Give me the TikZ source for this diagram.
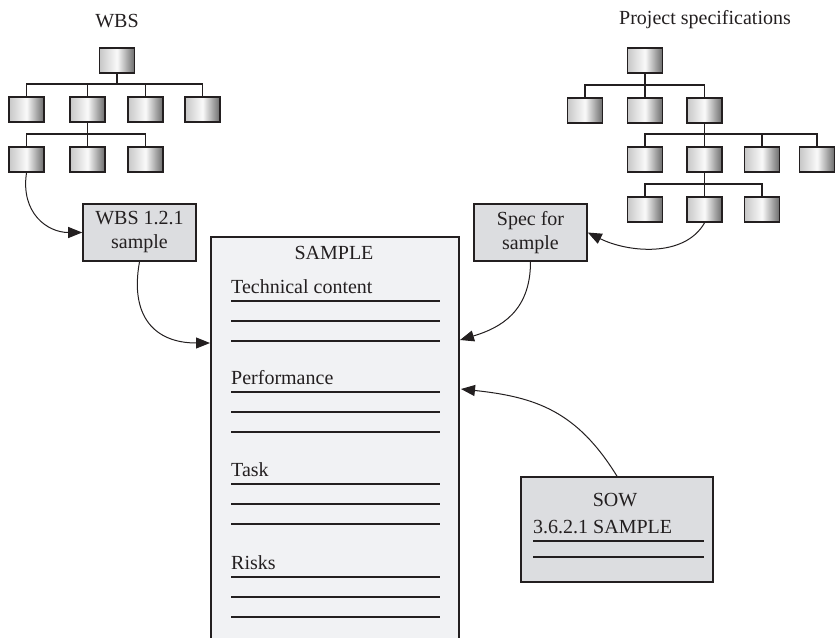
\documentclass[tikz,border=0pt]{standalone}
\usepackage{fontspec}
\setmainfont{Liberation Serif}
\usetikzlibrary{arrows.meta}
\definecolor{inkgray}{HTML}{231F20}
\definecolor{boxgray}{HTML}{DCDDE0}
\definecolor{pagegray}{HTML}{F1F2F4}
\tikzset{
  treebox/.style={draw=inkgray, line width=1.8pt, left color=black!22, right color=black!58,
    middle color=black!2, minimum width=35, minimum height=25, inner sep=0pt},
  treeline/.style={draw=inkgray, line width=1.6pt},
  notebox/.style={draw=inkgray, line width=1.6pt, fill=boxgray, align=center, inner sep=0pt},
  rule/.style={draw=inkgray, line width=1.4pt},
  feed/.style={draw=inkgray, line width=1pt, -{Triangle[length=14pt,width=11pt]}}
}
\begin{document}
\begin{tikzpicture}[font=\fontsize{20}{24}\selectfont, text=inkgray]
\def\px{1pt}
\begin{scope}[x=\px, y=-\px]
  \useasboundingbox (0,0) rectangle (835,637);
  % WBS tree
  \node (wbslabel) at (117,21) {WBS};
  \node[treebox] (w0) at (117,60.5) {};
  \node[treebox] (w1a) at (26.5,109.5) {};
  \node[treebox] (w1b) at (87.5,109.5) {};
  \node[treebox] (w1c) at (145.5,109.5) {};
  \node[treebox] (w1d) at (202.5,109.5) {};
  \node[treebox] (w2a) at (26.5,159.5) {};
  \node[treebox] (w2b) at (87.5,159.5) {};
  \node[treebox] (w2c) at (145.5,159.5) {};
  \foreach \c in {w1a,w1b,w1c,w1d}
    \draw[treeline] (\c.north) -- ++(0,-12) -| (w0.south);
  \foreach \c in {w2a,w2b,w2c}
    \draw[treeline] (\c.north) -- ++(0,-12) -| (w1b.south);
  % Project specifications tree
  \node (speclabel) at (705,20) {Project specifications};
  \node[treebox] (p0) at (645,60.5) {};
  \node[treebox] (p1a) at (585,110.5) {};
  \node[treebox] (p1b) at (645,110.5) {};
  \node[treebox] (p1c) at (704.5,110.5) {};
  \node[treebox] (p2a) at (645,159.5) {};
  \node[treebox] (p2b) at (704.5,159.5) {};
  \node[treebox] (p2c) at (762,159.5) {};
  \node[treebox] (p2d) at (817,159.5) {};
  \node[treebox] (p3a) at (645,209.5) {};
  \node[treebox] (p3b) at (704.5,209.5) {};
  \node[treebox] (p3c) at (762,209.5) {};
  \foreach \c in {p1a,p1b,p1c}
    \draw[treeline] (\c.north) -- ++(0,-12) -| (p0.south);
  \foreach \c in {p2a,p2b,p2c,p2d}
    \draw[treeline] (\c.north) -- ++(0,-12) -| (p1c.south);
  \foreach \c in {p3a,p3b,p3c}
    \draw[treeline] (\c.north) -- ++(0,-12) -| (p2b.south);
  % Extracted items
  \node[notebox, minimum width=113, minimum height=57] (wbsitem) at (139.5,232.5) {WBS 1.2.1\\sample};
  \node[notebox, minimum width=113, minimum height=57] (specitem) at (530.5,232.5) {Spec for\\sample};
  % Sample sheet, running off the bottom
  \node[draw=inkgray, line width=1.6pt, fill=pagegray, minimum width=248, minimum height=420,
    anchor=north west, inner sep=0pt] (sample) at (210,236) {};
  \node (title) at (334,253) {SAMPLE};
  \foreach \t/\y in {Technical content/301, Performance/392, Task/484, Risks/577} {
    \node[anchor=base west, inner sep=0pt] (sec\y) at (231,\y-8) {\t};
    \foreach \d in {0,20,40}
      \draw[rule] (231,\y+\d) -- (440,\y+\d);
  }
  % Statement of work
  \node[notebox, minimum width=192, minimum height=105] (sow) at (617,529.5) {};
  \node (sowtitle) at (615,500) {SOW};
  \node[anchor=west, inner sep=0pt] (sowitem) at (533,527) {3.6.2.1 SAMPLE};
  \draw[rule] (533,541) -- (704,541);
  \draw[rule] (533,557) -- (704,557);
  % Feeds into the sample
  \coordinate (inTech) at (210,343);
  \coordinate (inSpec) at (460,340);
  \coordinate (inSow) at (461,389);
  \draw[feed] (w2a.south) .. controls +(-6,40) and +(-35,0) .. (wbsitem.west);
  \draw[feed] (p3b.south) .. controls +(-20,35) and +(40,20) .. (specitem.east);
  \draw[feed] (wbsitem.south) .. controls +(-10,55) and +(-55,0) .. (inTech);
  \draw[feed] (specitem.south) .. controls +(0,50) and +(40,-12) .. (inSpec);
  \draw[feed] (sow.north) .. controls +(-40,-65) and +(75,8) .. (inSow);
\end{scope}
\end{tikzpicture}
\end{document}
